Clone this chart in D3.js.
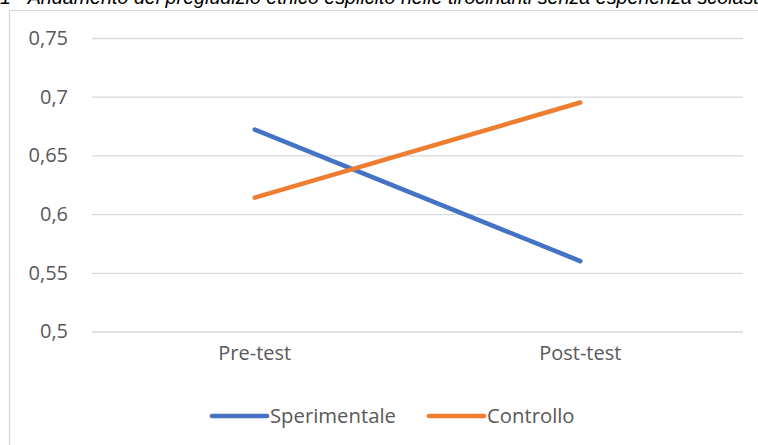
<!DOCTYPE html>
<html><head><meta charset="utf-8">
<script src="https://cdn.jsdelivr.net/npm/d3@7"></script>
<style>html,body{margin:0;padding:0;background:#fff;overflow:hidden}</style>
</head><body>
<svg id="c" width="758" height="445"></svg>
<script>
const categories = ["Pre-test", "Post-test"];
const seriesNames = ["Sperimentale", "Controllo"];
const sperimentale = [0.672, 0.560];
const controllo = [0.614, 0.695];
const yTicks = [0.5, 0.55, 0.6, 0.65, 0.7, 0.75];
const titleText = "1 - Andamento del pregiudizio etnico esplicito nelle tirocinanti senza esperienza scolastica";

const colors = ["#4472C4", "#ED7D31"];
const svg = d3.select("#c");
const font = "'Open Sans', sans-serif";

// chart border
svg.append("rect").attr("x", 9.5).attr("y", 10.5).attr("width", 800).attr("height", 500)
  .attr("fill", "none").attr("stroke", "#d9d9d9").attr("stroke-width", 1.3);

// title (cut off at top, as in the reference)
svg.append("text").attr("x", 0).attr("y", 4).attr("font-family", "'Liberation Sans', Arial, sans-serif")
  .attr("font-style", "italic").attr("font-size", 19.7).attr("fill", "#000").text(titleText);

const x = d3.scaleBand().domain(categories).range([92, 743]);
const y = d3.scaleLinear().domain([0.5, 0.75]).range([331.5, 38]);

const fmt = v => d3.format("")(+v.toFixed(2)).replace(".", ",");

// grid
const yAxis = d3.axisLeft(y).tickValues(yTicks).tickSize(-(743 - 92)).tickPadding(24).tickFormat(fmt);
const gy = svg.append("g").attr("transform", "translate(92,0)").call(yAxis);
gy.select(".domain").remove();
gy.selectAll(".tick line").attr("stroke", "#d9d9d9").attr("stroke-width", 1.3);
gy.selectAll(".tick text").attr("font-family", font).attr("font-size", 20).attr("fill", "#595959");

// x axis labels
const xAxis = d3.axisBottom(x).tickSize(0).tickPadding(14);
const gx = svg.append("g").attr("transform", "translate(0,331.5)").call(xAxis);
gx.select(".domain").remove();
gx.selectAll(".tick text").attr("font-family", font).attr("font-size", 20).attr("fill", "#595959");

// lines
const line = d3.line().x((d, i) => x(categories[i]) + x.bandwidth() / 2).y(d => y(d));
[sperimentale, controllo].forEach((s, i) => {
  svg.append("path").datum(s).attr("d", line).attr("fill", "none")
    .attr("stroke", colors[i]).attr("stroke-width", 4.6).attr("stroke-linecap", "round");
});

// legend
const legX = [212, 429];
seriesNames.forEach((n, i) => {
  const g = svg.append("g").attr("transform", `translate(${legX[i]},416)`);
  g.append("line").attr("x1", 0).attr("x2", 55).attr("y1", 0).attr("y2", 0)
    .attr("stroke", colors[i]).attr("stroke-width", 4.6).attr("stroke-linecap", "round");
  g.append("text").attr("x", 58).attr("y", 7).attr("font-family", font).attr("font-size", 20.3)
    .attr("fill", "#595959").text(n);
});
</script>
</body></html>
